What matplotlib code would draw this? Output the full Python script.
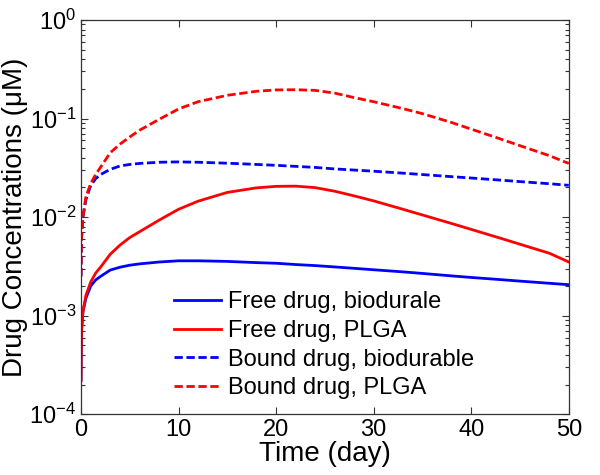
import matplotlib
matplotlib.use('Agg')
import matplotlib.pyplot as plt
from matplotlib.ticker import LogLocator, NullFormatter

plt.rcParams['font.family'] = ['Liberation Sans', 'DejaVu Sans']
plt.rcParams['mathtext.fontset'] = 'custom'
plt.rcParams['mathtext.rm'] = 'Liberation Sans'
plt.rcParams['mathtext.it'] = 'Liberation Sans'

# time points (day)
t = [0, 0.05, 0.2, 0.5, 1, 1.5, 2, 3, 4, 5, 6, 8, 10, 12, 15, 18, 20, 22,
     24, 26, 28, 30, 33, 35, 38, 40, 43, 45, 48, 50]

# concentrations (uM)
free_bio = [2.2e-4, 7e-4, 1.1e-3, 1.5e-3, 2.0e-3, 2.3e-3, 2.5e-3, 2.9e-3, 3.1e-3,
            3.25e-3, 3.35e-3, 3.5e-3, 3.6e-3, 3.6e-3, 3.55e-3, 3.45e-3, 3.4e-3,
            3.3e-3, 3.22e-3, 3.12e-3, 3.02e-3, 2.92e-3, 2.78e-3, 2.68e-3, 2.53e-3,
            2.44e-3, 2.32e-3, 2.24e-3, 2.13e-3, 2.06e-3]
free_plga = [2.2e-4, 7e-4, 1.1e-3, 1.6e-3, 2.2e-3, 2.7e-3, 3.1e-3, 4.2e-3, 5.2e-3,
             6.2e-3, 7.1e-3, 9.3e-3, 1.2e-2, 1.45e-2, 1.78e-2, 1.98e-2, 2.05e-2,
             2.06e-2, 1.99e-2, 1.83e-2, 1.64e-2, 1.46e-2, 1.2e-2, 1.05e-2, 8.6e-3,
             7.5e-3, 6.1e-3, 5.3e-3, 4.3e-3, 3.5e-3]
bound_bio = [2.5e-3, 6e-3, 1.0e-2, 1.5e-2, 2.1e-2, 2.45e-2, 2.7e-2, 3.05e-2, 3.3e-2,
             3.42e-2, 3.5e-2, 3.6e-2, 3.63e-2, 3.6e-2, 3.52e-2, 3.42e-2, 3.35e-2,
             3.27e-2, 3.19e-2, 3.08e-2, 3.0e-2, 2.92e-2, 2.79e-2, 2.7e-2, 2.57e-2,
             2.49e-2, 2.37e-2, 2.29e-2, 2.18e-2, 2.1e-2]
bound_plga = [2.5e-3, 6e-3, 1.0e-2, 1.6e-2, 2.2e-2, 2.7e-2, 3.2e-2, 4.5e-2, 5.5e-2,
              6.5e-2, 7.6e-2, 0.098, 0.125, 0.148, 0.172, 0.189, 0.195, 0.196,
              0.193, 0.181, 0.163, 0.148, 0.126, 0.112, 0.091, 0.078, 0.062, 0.053,
              0.042, 0.035]

labels = ['Free drug, biodurale', 'Free drug, PLGA',
          'Bound drug, biodurable', 'Bound drug, PLGA']

fig = plt.figure(figsize=(6, 4.75), dpi=100)
ax = fig.add_axes([0.135, 0.128, 0.813, 0.83])

dash = (3, 1.3)
ax.plot(t, free_bio, color='#0000ff', lw=2, label=labels[0])
ax.plot(t, free_plga, color='#ff0000', lw=2, label=labels[1])
ax.plot(t, bound_bio, color='#0000ff', lw=2, dashes=dash, label=labels[2])
ax.plot(t, bound_plga, color='#ff0000', lw=2, dashes=dash, label=labels[3])

ax.set_yscale('log')
ax.set_xlim(0, 50)
ax.set_ylim(1e-4, 1)
ax.set_xticks([0, 10, 20, 30, 40, 50])
ax.yaxis.set_major_locator(LogLocator(base=10, numticks=10))
ax.yaxis.set_minor_locator(LogLocator(base=10, subs=range(2, 10), numticks=10))
ax.yaxis.set_minor_formatter(NullFormatter())

ax.tick_params(which='both', direction='in', top=True, right=True,
               labelsize=17, width=0.8, color='#333333')
ax.tick_params(which='major', length=5)
ax.tick_params(which='minor', length=3)
for s in ax.spines.values():
    s.set_color('#333333')
    s.set_linewidth(0.9)

ax.set_xlabel('Time (day)', fontsize=20, labelpad=0)
ax.set_ylabel('Drug Concentrations (\u03bcM)', fontsize=20, labelpad=1)

ax.legend(loc='lower left', bbox_to_anchor=(0.19, 0.038), frameon=False,
          fontsize=17, handlelength=2.0, handletextpad=0.3,
          labelspacing=0.28, borderpad=0, borderaxespad=0)

fig.savefig('out.png', dpi=100)
